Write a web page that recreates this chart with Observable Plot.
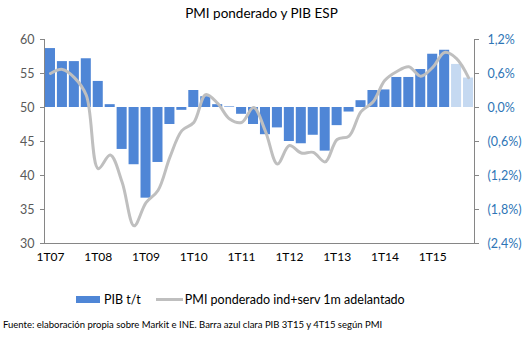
<!DOCTYPE html>
<html><head><meta charset="utf-8">
<script src="https://cdn.jsdelivr.net/npm/d3@7"></script>
<script src="https://cdn.jsdelivr.net/npm/@observablehq/plot@0.6"></script>
<style>
body{margin:0;background:#fff;font-family:Lato,"Open Sans",sans-serif;}
#wrap{position:relative;width:529px;height:340px;overflow:hidden;background:#fff;}
#title{position:absolute;top:5px;left:-3px;width:529px;text-align:center;font-size:13.5px;color:#000;}
#chart{position:absolute;top:0;left:0;}
#legend{position:absolute;top:292px;left:76px;font-size:12.5px;color:#000;display:flex;align-items:center;white-space:nowrap;}
#legend .sw{display:inline-block;width:24px;height:7px;background:#4F86D6;margin-right:4px;}
#legend .ln{display:inline-block;width:27px;height:3px;background:#BFBFBF;margin:0 2px 0 15px;}
#foot{position:absolute;top:319px;left:3px;font-size:9.5px;color:#000;white-space:nowrap;}
</style></head>
<body>
<div id="wrap">
  <div id="chart"></div>
  <div id="title">PMI ponderado y PIB ESP</div>
  <div id="legend"><span class="sw"></span><span>PIB t/t</span><span class="ln"></span><span>PMI ponderado ind+serv 1m adelantado</span></div>
  <div id="foot">Fuente: elaboración propia sobre Markit e INE. Barra azul clara PIB 3T15 y 4T15 según PMI</div>
</div>
<script>
const quarters = ["1T07","2T07","3T07","4T07","1T08","2T08","3T08","4T08","1T09","2T09","3T09","4T09",
  "1T10","2T10","3T10","4T10","1T11","2T11","3T11","4T11","1T12","2T12","3T12","4T12",
  "1T13","2T13","3T13","4T13","1T14","2T14","3T14","4T14","1T15","2T15","3T15","4T15"];
const xTickLabels = ["1T07","1T08","1T09","1T10","1T11","1T12","1T13","1T14","1T15"];
// PIB t/t (%)
const pibPct = [1.04,0.81,0.81,0.86,0.46,0.05,-0.74,-1.01,-1.60,-0.97,-0.30,-0.05,
  0.30,0.19,0.05,0.01,-0.12,-0.30,-0.48,-0.36,-0.60,-0.64,-0.49,-0.77,
  -0.32,-0.08,0.12,0.30,0.31,0.53,0.53,0.67,0.94,1.01,0.76,0.52];
// PMI ponderado ind+serv, 1m adelantado
const pmi = [55.0,55.6,54.4,51.8,41.0,43.0,39.0,32.6,36.0,37.8,42.7,46.6,
  47.8,51.9,50.6,48.3,47.8,50.0,46.5,41.7,44.4,43.3,43.4,42.0,
  45.3,45.8,49.4,50.8,54.0,55.3,56.0,54.6,55.9,58.1,57.2,54.4];
const estimated = ["3T15","4T15"];
const leftTicks = [30,35,40,45,50,55,60];
const rightTickLabels = ["(2,4%)","(1,8%)","(1,2%)","(0,6%)","0,0%","0,6%","1,2%"];

// dual axis: 0% PIB <-> PMI 50 ; 0.6% <-> 5 PMI points
const pctToPmi = p => 50 + p / 0.12;
const rows = quarters.map((q, i) => ({q, pib: pibPct[i], pmi: pmi[i], est: estimated.includes(q)}));

const chart = Plot.plot({
  width: 529, height: 275,
  marginLeft: 44, marginRight: 55, marginTop: 39, marginBottom: 32,
  style: {fontFamily: "Lato, 'Open Sans', sans-serif", background: "transparent", fontSize: "12px"},
  x: {type: "band", domain: quarters, paddingInner: 0.16, paddingOuter: 0.08, axis: null, label: null},
  y: {domain: [30, 60], axis: null, label: null},
  color: {type: "identity"},
  marks: [
    Plot.barY(rows, {x: "q", y1: 50, y2: d => pctToPmi(d.pib), fill: d => d.est ? "#C5D9F1" : "#4F86D6"}),
    Plot.line(rows, {x: "q", y: "pmi", stroke: "#BFBFBF", strokeWidth: 3, curve: "catmull-rom"}),
    Plot.frame({anchor: "left", stroke: "#868686"}),
    Plot.frame({anchor: "right", stroke: "#868686"}),
    Plot.frame({anchor: "bottom", stroke: "#868686"}),
    Plot.axisY({anchor: "left", label: null, ticks: leftTicks, tickSize: 4, tickPadding: 6, stroke: "#868686", fill: "#595959", fontSize: 12.5, tickFormat: d => String(d)}),
    Plot.axisY({anchor: "right", label: null, ticks: leftTicks, tickSize: 4, tickPadding: 9, stroke: "#868686", fill: "#2E75B6", fontSize: 12.5,
      tickFormat: d => rightTickLabels[leftTicks.indexOf(d)]}),
    Plot.axisX({label: null, ticks: xTickLabels, tickSize: 0, tickPadding: 9, fill: "#000", fontSize: 12})
  ]
});
document.getElementById("chart").appendChild(chart);
</script>
</body></html>
